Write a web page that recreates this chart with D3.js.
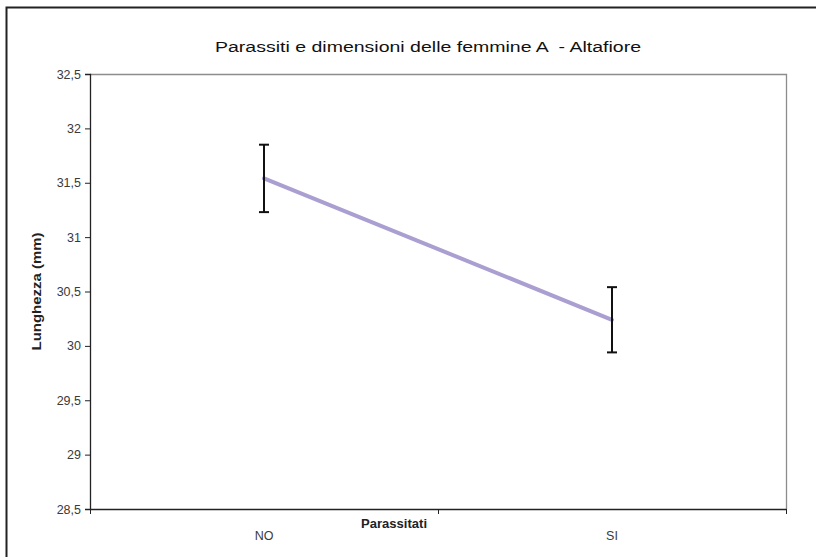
<!DOCTYPE html>
<html>
<head>
<meta charset="utf-8">
<script src="https://cdn.jsdelivr.net/npm/d3@7"></script>
<style>
  html, body { margin: 0; padding: 0; background: #fff; }
  svg { display: block; }
  text { font-family: "Liberation Sans", Arial, sans-serif; }
</style>
</head>
<body>
<svg id="chart" width="816" height="557"></svg>
<script>
// Mean body length of A females, with and without parasites
const categories = ["NO", "SI"];
const means = [31.54, 30.24];
const errors = [0.31, 0.30];
const yTicks = [28.5, 29, 29.5, 30, 30.5, 31, 31.5, 32, 32.5];

const title = "Parassiti e dimensioni delle femmine A  - Altafiore";
const xTitle = "Parassitati";
const yTitle = "Lunghezza (mm)";

const svg = d3.select("#chart");
const W = 816, H = 557;
const plot = { left: 90, right: 786, top: 74, bottom: 509 };

// outer frame (open to the right and bottom)
svg.append("rect")
  .attr("x", 6.5).attr("y", 7.5)
  .attr("width", W + 10).attr("height", H + 10)
  .attr("fill", "#fff").attr("stroke", "#222").attr("stroke-width", 2);

const x = d3.scaleBand().domain(categories).range([plot.left, plot.right]);
const y = d3.scaleLinear().domain([28.5, 32.5]).range([plot.bottom, plot.top]);

// plot area border: gray top and right edges
svg.append("path")
  .attr("d", `M${plot.left},${plot.top + 0.5}H${plot.right + 0.5}V${plot.bottom}`)
  .attr("fill", "none").attr("stroke", "#8c8c8c").attr("stroke-width", 1.3);

// y axis
const yAxis = d3.axisLeft(y)
  .tickValues(yTicks)
  .tickSize(5)
  .tickPadding(4)
  .tickFormat(d => d3.format("")(d).replace(".", ","));
const gy = svg.append("g").attr("transform", `translate(${plot.left},0)`).call(yAxis);
gy.select(".domain").attr("stroke", "#222").attr("stroke-width", 1.3);
gy.selectAll(".tick line").attr("stroke", "#222");
gy.selectAll(".tick text")
  .attr("font-size", 12.5).attr("fill", "#3a3a3a")
  .style("font-family", "'Liberation Sans', Arial, sans-serif");

// x axis: ticks sit on band boundaries, labels at band centres
const gx = svg.append("g").attr("transform", `translate(0,${plot.bottom})`);
gx.append("path")
  .attr("d", `M${plot.left},0.5H${plot.right + 0.5}`)
  .attr("stroke", "#222").attr("stroke-width", 1.3);
const boundaries = [plot.left, ...categories.map(c => x(c) + x.bandwidth())];
gx.selectAll("line.bt").data(boundaries).join("line")
  .attr("class", "bt")
  .attr("x1", d => d + 0.5).attr("x2", d => d + 0.5)
  .attr("y1", 0).attr("y2", 5)
  .attr("stroke", "#222");
gx.selectAll("text.cat").data(categories).join("text")
  .attr("class", "cat")
  .attr("x", d => x(d) + x.bandwidth() / 2)
  .attr("y", 31)
  .attr("text-anchor", "middle")
  .attr("font-size", 12.5).attr("fill", "#3a3a3a")
  .text(d => d);

// titles
svg.append("text")
  .attr("x", 428).attr("y", 52)
  .attr("text-anchor", "middle")
  .attr("font-size", 14).attr("fill", "#111")
  .style("white-space", "pre")
  .attr("textLength", 426).attr("lengthAdjust", "spacingAndGlyphs")
  .text(title);

svg.append("text")
  .attr("x", 394).attr("y", 528)
  .attr("text-anchor", "middle")
  .attr("font-size", 12).attr("font-weight", "bold").attr("fill", "#222")
  .attr("textLength", 66).attr("lengthAdjust", "spacingAndGlyphs")
  .text(xTitle);

svg.append("text")
  .attr("transform", `translate(41,${(plot.top + plot.bottom) / 2}) rotate(-90)`)
  .attr("text-anchor", "middle")
  .attr("font-size", 12.5).attr("font-weight", "bold").attr("fill", "#222")
  .attr("textLength", 118).attr("lengthAdjust", "spacingAndGlyphs")
  .text(yTitle);

// series
const pts = categories.map((c, i) => ({ c, m: means[i], e: errors[i] }));
const cx = d => x(d.c) + x.bandwidth() / 2;

svg.append("path")
  .datum(pts)
  .attr("d", d3.line().x(cx).y(d => y(d.m)))
  .attr("fill", "none")
  .attr("stroke", "#ab9fd1")
  .attr("stroke-width", 4)
  .attr("stroke-linecap", "round");

const eb = svg.append("g").selectAll("g").data(pts).join("g");
eb.append("line")
  .attr("x1", cx).attr("x2", cx)
  .attr("y1", d => y(d.m + d.e)).attr("y2", d => y(d.m - d.e))
  .attr("stroke", "#111").attr("stroke-width", 2);
eb.append("line")
  .attr("x1", d => cx(d) - 5).attr("x2", d => cx(d) + 5)
  .attr("y1", d => y(d.m + d.e)).attr("y2", d => y(d.m + d.e))
  .attr("stroke", "#111").attr("stroke-width", 2);
eb.append("line")
  .attr("x1", d => cx(d) - 5).attr("x2", d => cx(d) + 5)
  .attr("y1", d => y(d.m - d.e)).attr("y2", d => y(d.m - d.e))
  .attr("stroke", "#111").attr("stroke-width", 2);
</script>
</body>
</html>
